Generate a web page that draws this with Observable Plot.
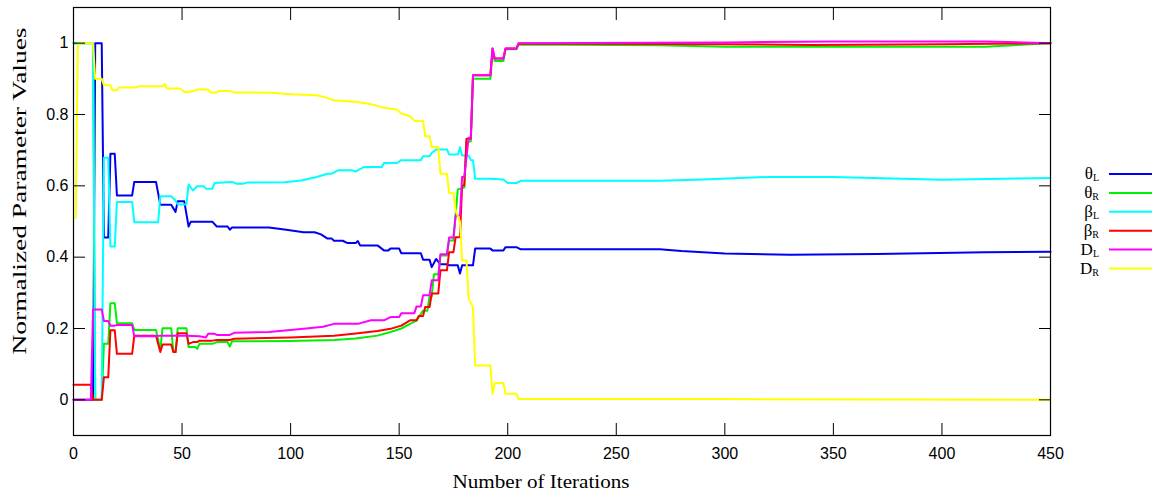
<!DOCTYPE html>
<html><head><meta charset="utf-8">
<script src="https://cdn.jsdelivr.net/npm/d3@7"></script>
<script src="https://cdn.jsdelivr.net/npm/@observablehq/plot@0.6"></script>
<style>body{margin:0;background:#fff} svg{display:block}</style>
</head><body><div id="chart"></div>
<script>
// Legend entries: [symbol, subscript]
const seriesNames = [["θ","L"],["θ","R"],["β","L"],["β","R"],["D","L"],["D","R"]];
const seriesColors = ["#0000f0","#00f000","#00ffff","#ff0000","#ff00ff","#ffff00"];

// [iteration, normalized value]
const thetaL = [[0,0],[9,0],[10,1],[13,1],[14,0.455],[16,0.455],[17,0.69],[19,0.69],[20,0.573],[27,0.573],[28,0.611],[38,0.611],[40,0.547],[45,0.547],[47,0.527],[48,0.557],[51,0.557],[53,0.486],[54,0.499],[64,0.499],[66,0.486],[71,0.486],[72,0.477],[73,0.483],[90,0.483],[98,0.477],[106,0.470],[111,0.470],[114,0.464],[117,0.452],[119,0.452],[120,0.446],[124,0.446],[126,0.44],[130,0.44],[131,0.445],[132,0.433],[140,0.433],[143,0.419],[145,0.419],[146,0.424],[150,0.424],[151,0.411],[160,0.411],[161,0.393],[164,0.393],[165,0.372],[167,0.395],[169,0.38],[172,0.38],[173,0.377],[177,0.377],[178,0.354],[179,0.377],[184,0.377],[185,0.424],[192,0.424],[193,0.419],[198,0.419],[199,0.428],[204,0.428],[206,0.422],[270,0.422],[280,0.417],[300,0.41],[330,0.407],[370,0.409],[420,0.414],[450,0.415]];
const thetaR = [[0,1],[9,1],[10,0],[13,0],[14,0.157],[16,0.157],[17,0.271],[19,0.271],[20,0.215],[27,0.215],[28,0.196],[38,0.196],[40,0.14],[41,0.201],[45,0.201],[46,0.134],[47,0.134],[48,0.201],[52,0.201],[53,0.148],[56,0.148],[57,0.143],[58,0.157],[64,0.157],[66,0.162],[71,0.162],[72,0.149],[73,0.164],[100,0.165],[120,0.168],[130,0.172],[140,0.18],[146,0.19],[151,0.2],[155,0.213],[158,0.222],[161,0.25],[163,0.25],[164,0.29],[165,0.29],[166,0.352],[168,0.352],[169,0.405],[172,0.405],[173,0.447],[175,0.447],[177,0.59],[180,0.595],[181,0.722],[183,0.725],[184,0.9],[192,0.9],[193,0.975],[194,0.95],[198,0.95],[199,0.983],[204,0.983],[205,0.996],[270,0.994],[300,0.99],[350,0.99],[420,0.99],[450,1.0]];
const betaL = [[0,1],[9,1],[10,0],[13,0],[14,0.679],[16,0.679],[17,0.43],[19,0.43],[20,0.555],[27,0.555],[28,0.498],[39,0.498],[40,0.571],[45,0.571],[47,0.559],[48,0.548],[52,0.548],[53,0.604],[55,0.587],[57,0.599],[60,0.599],[61,0.592],[64,0.592],[65,0.608],[73,0.611],[75,0.606],[78,0.606],[80,0.609],[97,0.61],[105,0.615],[112,0.625],[117,0.634],[119,0.634],[122,0.644],[128,0.644],[130,0.64],[131,0.644],[134,0.653],[142,0.653],[143,0.664],[149,0.664],[151,0.672],[160,0.672],[161,0.683],[164,0.683],[165,0.692],[167,0.702],[172,0.702],[173,0.688],[177,0.688],[178,0.708],[179,0.685],[182,0.685],[183,0.672],[184,0.672],[185,0.62],[192,0.62],[198,0.618],[200,0.608],[204,0.608],[206,0.614],[270,0.614],[290,0.618],[320,0.625],[350,0.625],[400,0.617],[450,0.622]];
const betaR = [[0,0.042],[8,0.042],[9,0],[13,0],[14,0.063],[16,0.063],[17,0.195],[19,0.195],[20,0.129],[27,0.129],[28,0.18],[38,0.18],[40,0.134],[41,0.155],[45,0.155],[46,0.134],[47,0.134],[48,0.187],[52,0.187],[53,0.157],[55,0.162],[57,0.162],[58,0.166],[64,0.166],[66,0.168],[72,0.168],[74,0.171],[100,0.175],[120,0.18],[130,0.186],[140,0.193],[146,0.199],[151,0.208],[155,0.223],[158,0.223],[159,0.235],[161,0.235],[162,0.26],[164,0.26],[165,0.298],[168,0.298],[169,0.363],[172,0.363],[173,0.414],[175,0.414],[176,0.456],[178,0.456],[179,0.601],[180,0.601],[181,0.732],[183,0.732],[184,0.91],[192,0.91],[193,0.985],[194,0.957],[198,0.957],[199,0.985],[204,0.985],[205,0.999],[300,0.997],[340,0.995],[400,0.997],[450,1.0]];
const DL = [[0,0],[8,0],[9,0.253],[13,0.253],[14,0.221],[16,0.221],[17,0.208],[19,0.208],[20,0.21],[27,0.21],[28,0.178],[38,0.178],[40,0.18],[52,0.18],[58,0.178],[61,0.175],[62,0.185],[65,0.185],[66,0.182],[72,0.182],[74,0.188],[90,0.19],[106,0.199],[115,0.205],[120,0.213],[131,0.213],[137,0.223],[143,0.223],[146,0.232],[150,0.232],[151,0.243],[157,0.243],[158,0.262],[160,0.262],[161,0.293],[164,0.293],[165,0.335],[168,0.335],[169,0.408],[172,0.408],[173,0.455],[175,0.455],[176,0.517],[178,0.517],[179,0.625],[180,0.625],[182,0.735],[183,0.735],[184,0.91],[192,0.91],[193,0.985],[194,0.957],[198,0.957],[199,0.985],[204,0.985],[205,1.0],[300,1.002],[350,1.005],[420,1.005],[450,1.0]];
const DR = [[1,0.51],[2,1],[9,1],[10,0.9],[13,0.9],[14,0.882],[17,0.882],[18,0.868],[20,0.868],[21,0.876],[29,0.876],[30,0.879],[41,0.879],[42,0.885],[43,0.873],[49,0.873],[51,0.863],[53,0.863],[55,0.866],[57,0.870],[62,0.870],[63,0.862],[66,0.862],[67,0.866],[72,0.866],[74,0.862],[90,0.861],[100,0.857],[112,0.854],[116,0.848],[120,0.840],[126,0.837],[131,0.835],[137,0.829],[143,0.819],[149,0.814],[151,0.803],[155,0.795],[157,0.782],[161,0.782],[162,0.739],[164,0.739],[165,0.709],[168,0.709],[169,0.634],[172,0.634],[173,0.58],[175,0.58],[176,0.531],[178,0.50],[179,0.391],[181,0.391],[182,0.283],[184,0.26],[185,0.096],[192,0.096],[193,0.017],[194,0.047],[198,0.047],[199,0.017],[204,0.017],[205,0.002],[300,0.002],[450,0.0]];

const xTicks = [0,50,100,150,200,250,300,350,400,450];
const yTicks = [0,0.2,0.4,0.6,0.8,1];
const yTickLabels = ["0","0.2","0.4","0.6","0.8","1"];
const xTitle = "Number of Iterations";
const yTitle = "Normalized Parameter Values";

const series = [thetaL, thetaR, betaL, betaR, DL, DR];
const tables = series.map((s, i) => s.map(([x, y]) => ({name: seriesNames[i].join(""), x, y})));

const plot = Plot.plot({
  width: 1156, height: 497,
  marginLeft: 73, marginRight: 106, marginTop: 7, marginBottom: 62,
  style: {background: "#fff", fontFamily: "'Liberation Sans', Arial, sans-serif", fontSize: "16px", color: "#000"},
  x: {domain: [0, 450]},
  y: {domain: [-0.1, 1.1]},
  marks: [
    ...tables.map((t, i) => Plot.line(t, {x: "x", y: "y", stroke: seriesColors[i], strokeWidth: 2})),
    Plot.frame({stroke: "#000", strokeWidth: 1.2}),
    Plot.axisX(xTicks, {anchor: "bottom", tickSize: -12, tickPadding: 24, label: null, tickFormat: d => String(d)}),
    Plot.axisX(xTicks, {anchor: "top", tickSize: -12, label: null, tickFormat: () => ""}),
    Plot.axisY(yTicks, {anchor: "left", tickSize: -12, tickPadding: 17, label: null, tickFormat: d => yTickLabels[yTicks.indexOf(d)]}),
    Plot.axisY(yTicks, {anchor: "right", tickSize: -12, label: null, tickFormat: () => ""})
  ]
});

const svg = d3.select(plot);
const serif = "'Liberation Serif', 'Times New Roman', serif";
svg.append("text").text(xTitle)
  .attr("x", 541).attr("y", 488).attr("text-anchor", "middle")
  .attr("font-family", serif).attr("font-size", 18)
  .attr("textLength", 177).attr("lengthAdjust", "spacingAndGlyphs").attr("fill", "#000");
svg.append("text").text(yTitle)
  .attr("transform", "translate(26,191) rotate(-90)").attr("text-anchor", "middle")
  .attr("font-family", serif).attr("font-size", 18)
  .attr("textLength", 327).attr("lengthAdjust", "spacingAndGlyphs").attr("fill", "#000");

const leg = svg.append("g");
seriesNames.forEach(([sym, sub], i) => {
  const y = 174 + i * 18.9;
  const t = leg.append("text").attr("x", 1099).attr("y", y + 5).attr("text-anchor", "end")
    .attr("font-family", serif).attr("font-size", 17).attr("fill", "#000");
  t.append("tspan").text(sym);
  t.append("tspan").text(sub).attr("font-size", 10).attr("dy", 2);
  leg.append("line").attr("x1", 1109).attr("x2", 1152).attr("y1", y).attr("y2", y)
    .attr("stroke", seriesColors[i]).attr("stroke-width", 2);
});

document.getElementById("chart").appendChild(plot);
</script>
</body></html>
